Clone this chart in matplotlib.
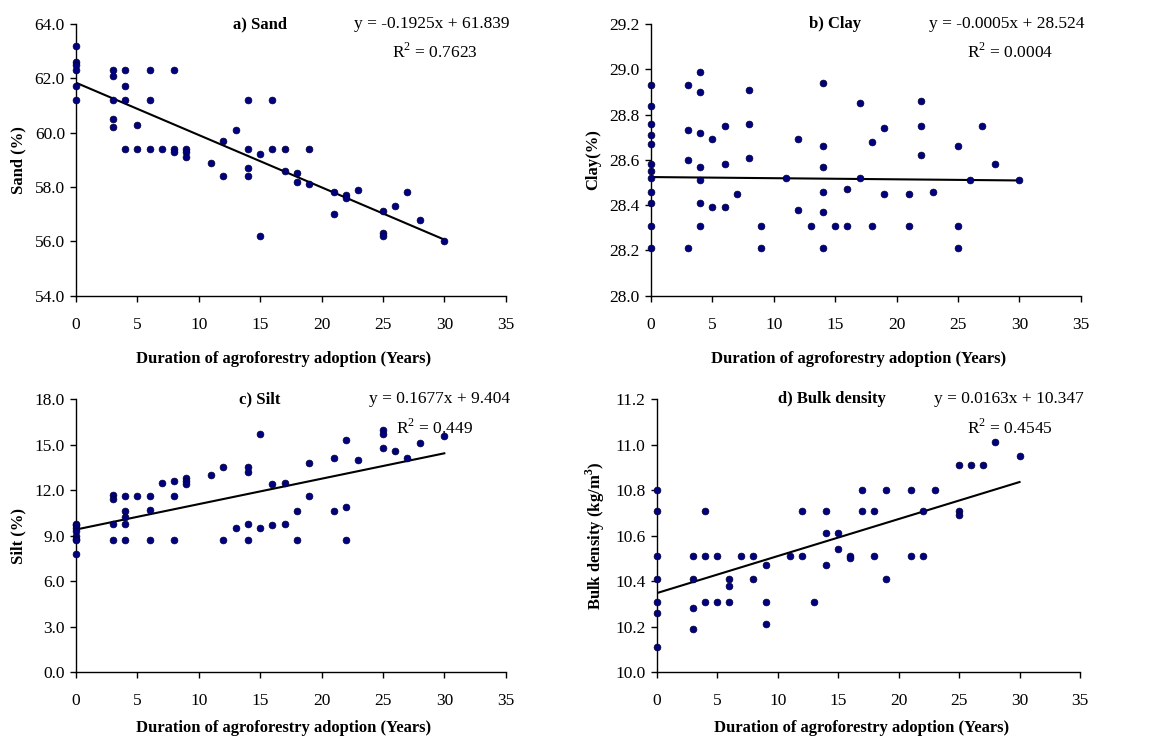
import matplotlib.pyplot as plt
import numpy as np

plt.rcParams['font.family'] = ['Liberation Serif', 'DejaVu Serif']
plt.rcParams['mathtext.fontset'] = 'custom'
plt.rcParams['mathtext.rm'] = 'Liberation Serif'
plt.rcParams['mathtext.bf'] = 'Liberation Serif:bold'

# years of agroforestry adoption for each sampled farm
sand_x = [0, 0, 0, 0, 0, 0,
          3, 3, 3, 3, 3,
          4, 4, 4, 4,
          5, 5, 6, 6, 6, 7, 8, 8, 8, 9, 9, 9,
          11, 12, 12, 13, 14, 14, 14, 14, 15, 15, 16, 16, 17, 17,
          18, 18, 19, 19, 21, 21, 22, 22, 23, 25, 25, 25, 26, 27, 28, 30]
sand_y = [63.2, 62.6, 62.5, 62.3, 61.7, 61.2,
          62.3, 62.1, 61.2, 60.5, 60.2,
          62.3, 61.7, 61.2, 59.4,
          60.3, 59.4, 62.3, 61.2, 59.4, 59.4, 62.3, 59.4, 59.3, 59.4, 59.3, 59.1,
          58.9, 59.7, 58.4, 60.1, 61.2, 59.4, 58.7, 58.4, 59.2, 56.2, 61.2, 59.4, 59.4, 58.6,
          58.5, 58.2, 59.4, 58.1, 57.8, 57.0, 57.7, 57.6, 57.9, 57.1, 56.3, 56.2, 57.3, 57.8, 56.8, 56.0]

clay_x = [0, 0, 0, 0, 0, 0, 0, 0, 0, 0, 0, 0,
          3, 3, 3, 3,
          4, 4, 4, 4, 4, 4, 4,
          5, 5, 6, 6, 6, 7, 8, 8, 8, 9, 9,
          11, 12, 12, 13, 14, 14, 14, 14, 14, 14, 15, 16, 16, 17, 17,
          18, 18, 19, 19, 21, 21, 22, 22, 22, 23, 25, 25, 25, 26, 27, 28, 30]
clay_y = [28.93, 28.84, 28.76, 28.71, 28.67, 28.58, 28.55, 28.52, 28.46, 28.41, 28.31, 28.21,
          28.93, 28.73, 28.60, 28.21,
          28.99, 28.90, 28.72, 28.57, 28.51, 28.41, 28.31,
          28.69, 28.39, 28.75, 28.58, 28.39, 28.45, 28.91, 28.76, 28.61, 28.31, 28.21,
          28.52, 28.69, 28.38, 28.31, 28.94, 28.66, 28.57, 28.46, 28.37, 28.21, 28.31, 28.47, 28.31, 28.85, 28.52,
          28.68, 28.31, 28.74, 28.45, 28.45, 28.31, 28.86, 28.75, 28.62, 28.46, 28.66, 28.31, 28.21, 28.51, 28.75, 28.58, 28.51]

silt_x = [0, 0, 0, 0, 0, 0, 0, 0,
          3, 3, 3, 3,
          4, 4, 4, 4, 4,
          5, 6, 6, 6, 7, 8, 8, 8, 9, 9, 9,
          11, 12, 12, 13, 14, 14, 14, 14, 15, 15, 16, 16, 17, 17,
          18, 18, 19, 19, 21, 21, 22, 22, 22, 23, 25, 25, 25, 26, 27, 28, 30]
silt_y = [9.8, 9.7, 9.5, 9.3, 9.0, 8.8, 8.7, 7.8,
          11.7, 11.4, 9.8, 8.7,
          11.6, 10.6, 10.2, 9.8, 8.7,
          11.6, 11.6, 10.7, 8.7, 12.5, 12.6, 11.6, 8.7, 12.8, 12.6, 12.4,
          13.0, 13.5, 8.7, 9.5, 13.5, 13.2, 9.8, 8.7, 15.7, 9.5, 12.4, 9.7, 12.5, 9.8,
          10.6, 8.7, 13.8, 11.6, 14.1, 10.6, 15.3, 10.9, 8.7, 14.0, 16.0, 15.7, 14.8, 14.6, 14.1, 15.1, 15.6]

bd_x = [0, 0, 0, 0, 0, 0, 0,
        3, 3, 3, 3,
        4, 4, 4,
        5, 5, 6, 6, 6, 7, 8, 8, 9, 9, 9,
        11, 12, 12, 13, 14, 14, 14, 15, 15, 16, 16, 17, 17,
        18, 18, 19, 19, 21, 21, 22, 22, 23, 25, 25, 25, 26, 27, 28, 30]
bd_y = [10.80, 10.71, 10.51, 10.41, 10.31, 10.26, 10.11,
        10.51, 10.41, 10.28, 10.19,
        10.71, 10.51, 10.31,
        10.51, 10.31, 10.41, 10.38, 10.31, 10.51, 10.51, 10.41, 10.47, 10.31, 10.21,
        10.51, 10.71, 10.51, 10.31, 10.71, 10.61, 10.47, 10.61, 10.54, 10.51, 10.50, 10.80, 10.71,
        10.71, 10.51, 10.80, 10.41, 10.80, 10.51, 10.71, 10.51, 10.80, 10.91, 10.71, 10.69, 10.91, 10.91, 11.01, 10.95]

# fitted trend lines (slope, intercept, r squared)
fits = {
    'sand': (-0.1925, 61.839, '0.7623'),
    'clay': (-0.0005, 28.524, '0.0004'),
    'silt': (0.1677, 9.404, '0.449'),
    'bd': (0.0163, 10.347, '0.4545'),
}

W, H = 1151, 742
fig = plt.figure(figsize=(W / 100, H / 100), dpi=100)


def px_axes(left, top, right, bottom):
    return fig.add_axes([left / W, (H - bottom) / H, (right - left) / W, (bottom - top) / H])


panels = [
    # key, x, y, axes box (px), ylim, yticks, title, ylabel, eqn, title x, xlabel pad
    ('sand', sand_x, sand_y, (76, 24, 505.7, 295.7), (54, 64), np.arange(54, 64.1, 2),
     'a) Sand', 'Sand (%)', 'y = -0.1925x + 61.839', 15.0, 13),
    ('clay', clay_x, clay_y, (651, 24, 1080.7, 295.7), (28.0, 29.2), np.arange(28.0, 29.21, 0.2),
     'b) Clay', 'Clay(%)', 'y = -0.0005x + 28.524', 15.0, 13),
    ('silt', silt_x, silt_y, (76, 399.3, 505.7, 672), (0, 18), np.arange(0, 18.1, 3),
     'c) Silt', 'Silt (%)', 'y = 0.1677x + 9.404', 15.0, 8),
    ('bd', bd_x, bd_y, (656.7, 399.3, 1080, 672), (10.0, 11.2), np.arange(10.0, 11.21, 0.2),
     'd) Bulk density', r'Bulk density (kg/m$^{\mathbf{3}}$)', 'y = 0.0163x + 10.347', 14.5, 8),
]

for key, xs, ys, box, ylim, yticks, title, ylabel, eqn, tx, xpad in panels:
    ax = px_axes(*box)
    ax.scatter(xs, ys, s=24, color='#000080', edgecolors='#000033', linewidths=0.5, zorder=3,
               clip_on=False)
    m, b, r2 = fits[key]
    lx = np.array([0, 30])
    ax.plot(lx, m * lx + b, color='black', lw=1.5, zorder=2)

    ax.set_xlim(0, 35)
    ax.set_ylim(*ylim)
    ax.set_xticks(np.arange(0, 36, 5))
    ax.set_yticks(yticks)
    ax.set_yticklabels([f'{v:.1f}' for v in yticks])
    for s in ('top', 'right'):
        ax.spines[s].set_visible(False)
    for s in ('left', 'bottom'):
        ax.spines[s].set_linewidth(1.0)
    ax.tick_params(direction='out', length=4, width=1.0, labelsize=12.5, pad=4)
    ax.tick_params(axis='x', pad=11)

    ax.set_xlabel('Duration of agroforestry adoption (Years)', fontsize=12,
                  fontweight='bold', labelpad=xpad)
    ax.xaxis.label.set_x(0.483)
    ax.set_ylabel(ylabel, fontsize=12, fontweight='bold', labelpad=6)

    ax.text(tx, 1.0, title, transform=ax.get_xaxis_transform(), ha='center', va='center',
            fontsize=12, fontweight='bold')
    ax.text(1.01, 1.0, eqn, transform=ax.transAxes, ha='right', va='center', fontsize=12.5)
    ax.text(0.835, 0.895, r'R$^{2}$ = ' + r2, transform=ax.transAxes, ha='center',
            va='center', fontsize=12.5)

fig.savefig('out.png', dpi=100)
